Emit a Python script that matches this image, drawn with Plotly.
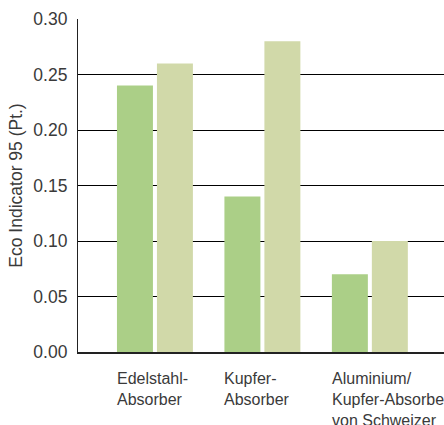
import plotly.graph_objects as go

# Absorber types and their Eco Indicator 95 scores
categories = ["Edelstahl-<br>Absorber", "Kupfer-<br>Absorber", "Aluminium/<br>Kupfer-Absorber<br>von Schweizer"]
series_a = [0.24, 0.14, 0.07]
series_b = [0.26, 0.28, 0.10]
y_ticks = [0.00, 0.05, 0.10, 0.15, 0.20, 0.25, 0.30]

color_a = "#abcf87"
color_b = "#d1d9a9"
text_color = "#3a3a3a"
font_family = "Liberation Sans, Arial, Helvetica, sans-serif"

x_pos = list(range(len(categories)))

fig = go.Figure()
fig.add_trace(go.Bar(x=x_pos, y=series_a, marker=dict(color=color_a, line=dict(width=0)), showlegend=False))
fig.add_trace(go.Bar(x=x_pos, y=series_b, marker=dict(color=color_b, line=dict(width=0)), showlegend=False))

# category labels, left aligned to the first bar of each group
for xi, label in zip(x_pos, categories):
    fig.add_annotation(
        x=xi - 0.375, y=0, xref="x", yref="y",
        text=label, showarrow=False,
        xanchor="left", yanchor="top", align="left",
        yshift=-16,
        font=dict(size=16, color=text_color, family=font_family),
    )

fig.update_layout(
    width=444, height=425,
    margin=dict(l=78, r=0, t=19, b=73),
    paper_bgcolor="white", plot_bgcolor="white",
    barmode="group", bargap=0.256, bargroupgap=0.1,
    font=dict(family=font_family, color=text_color),
    xaxis=dict(
        range=[-0.716, 2.69],
        showticklabels=False, showgrid=False, zeroline=False,
        showline=True, linecolor="#222", linewidth=1.5,
        ticks="",
    ),
    yaxis=dict(
        range=[0, 0.30],
        tickvals=y_ticks, ticktext=[f"{v:.2f}" for v in y_ticks],
        tickfont=dict(size=17.5, color=text_color, family=font_family),
        showgrid=True, gridcolor="#000", gridwidth=1,
        zeroline=False,
        showline=True, linecolor="#222", linewidth=1.2,
        ticks="", ticklabelstandoff=6,
        title=dict(text="Eco Indicator 95 (Pt.)", standoff=6,
                   font=dict(size=17.5, color=text_color, family=font_family)),
        layer="below traces",
    ),
)

fig.write_html("out.html")
